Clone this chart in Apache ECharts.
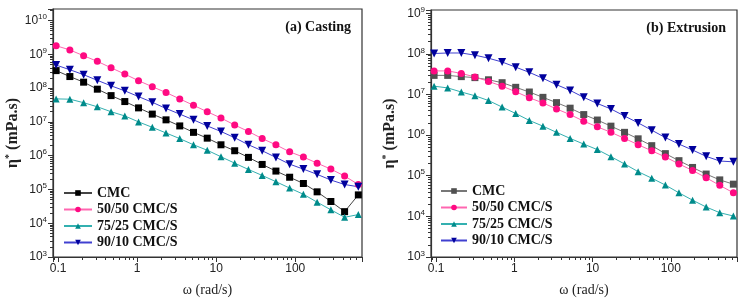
<!DOCTYPE html>
<html>
<head>
<meta charset="utf-8">
<script src="https://cdn.jsdelivr.net/npm/echarts@6/dist/echarts.min.js"></script>
<style>
  html, body { margin: 0; padding: 0; background: #fff; }
  #chart { width: 750px; height: 304px; }
</style>
</head>
<body>
<div id="chart"></div>
<script>
// angular frequency (rad/s)
var omega = [0.0942, 0.1406, 0.2098, 0.3131, 0.4672, 0.6972, 1.04, 1.553, 2.317, 3.457, 5.159, 7.699,
    11.49, 17.14, 25.58, 38.18, 56.97, 85.02, 126.9, 189.3, 282.5, 421.6, 629.2];

var seriesNames = ['CMC', '50/50 CMC/S', '75/25 CMC/S', '90/10 CMC/S'];

// (a) Casting, complex viscosity (mPa.s)
var castCMC = [3.3e8, 2.2e8, 1.5e8, 9.3e7, 6.0e7, 4.0e7, 2.6e7, 1.7e7, 1.15e7, 7.6e6, 4.9e6, 3.3e6,
    2.1e6, 1.4e6, 8.9e5, 5.5e5, 3.5e5, 2.3e5, 1.5e5, 8.5e4, 4.4e4, 2.2e4, 6.9e4];
var cast5050 = [1.8e9, 1.35e9, 9.1e8, 6.2e8, 4.0e8, 2.6e8, 1.66e8, 1.1e8, 7.4e7, 4.8e7, 3.1e7, 2.0e7,
    1.3e7, 8.1e6, 5.2e6, 3.2e6, 2.1e6, 1.3e6, 9.1e5, 6.0e5, 4.0e5, 2.5e5, 1.4e5];
var cast7525 = [4.8e7, 4.7e7, 3.7e7, 2.8e7, 2.0e7, 1.5e7, 1.0e7, 6.9e6, 4.7e6, 3.2e6, 2.1e6, 1.45e6,
    9.3e5, 6.0e5, 3.9e5, 2.6e5, 1.7e5, 1.1e5, 7.2e4, 4.2e4, 2.5e4, 1.5e4, 1.8e4];
var cast9010 = [4.8e8, 3.5e8, 2.5e8, 1.7e8, 1.17e8, 8.3e7, 5.6e7, 3.8e7, 2.5e7, 1.7e7, 1.15e7, 7.6e6,
    5.2e6, 3.4e6, 2.1e6, 1.4e6, 8.9e5, 5.6e5, 4.0e5, 2.8e5, 1.9e5, 1.4e5, 1.2e5];

// (b) Extrusion
var extCMC = [2.95e7, 2.95e7, 2.75e7, 2.6e7, 2.3e7, 1.95e7, 1.5e7, 1.15e7, 8.5e6, 6.3e6, 4.6e6, 3.2e6,
    2.35e6, 1.66e6, 1.17e6, 8.1e5, 5.5e5, 3.5e5, 2.35e5, 1.6e5, 1.1e5, 7.9e4, 6.2e4];
var ext5050 = [3.8e7, 3.8e7, 3.3e7, 2.7e7, 2.1e7, 1.6e7, 1.17e7, 8.3e6, 6.2e6, 4.4e6, 3.2e6, 2.2e6,
    1.6e6, 1.17e6, 8.3e5, 5.8e5, 4.1e5, 2.9e5, 1.95e5, 1.35e5, 8.9e4, 5.8e4, 3.8e4];
var ext7525 = [1.6e7, 1.45e7, 1.15e7, 9.3e6, 7.1e6, 4.9e6, 3.4e6, 2.3e6, 1.66e6, 1.17e6, 8.3e5, 6.0e5,
    4.4e5, 2.95e5, 1.95e5, 1.26e5, 8.7e4, 5.9e4, 3.8e4, 2.5e4, 1.7e4, 1.23e4, 1.02e4];
var ext9010 = [1.02e8, 1.05e8, 1.05e8, 9.3e7, 7.8e7, 6.3e7, 4.7e7, 3.5e7, 2.5e7, 1.74e7, 1.26e7, 8.5e6,
    6.0e6, 4.4e6, 2.95e6, 2.0e6, 1.32e6, 8.7e5, 6.0e5, 4.3e5, 3.0e5, 2.3e5, 2.2e5];

var castColors = ['#000000', '#ff0a82', '#008b8b', '#00009c'];
var extColors = ['#505050', '#ff0a82', '#008b8b', '#00009c'];
var lineColorsCast = ['#444444', '#ff66b0', '#33b0b0', '#4040d0'];
var lineColorsExt = ['#777777', '#ff66b0', '#33b0b0', '#4040d0'];
var symbols = ['rect', 'circle', 'triangle', 'path://M0,0 L10,0 L5,9 Z'];

function pairs(ys) {
    return omega.map(function (w, i) { return [w, ys[i]]; });
}

function expLabel(v) {
    var e = Math.log10(v);
    var r = Math.round(e);
    if (Math.abs(e - r) > 1e-6) return '';
    return '10{sup|' + r + '}';
}
function xLabel(v) {
    var e = Math.log10(v);
    var r = Math.round(e);
    if (Math.abs(e - r) > 1e-6) return '';
    return r < 0 ? '0.1' : String(Math.pow(10, r));
}

var serif = '"Liberation Serif", "DejaVu Serif", serif';
var sans = '"Liberation Sans", Arial, sans-serif';

function xAxisFor(g) {
    return {
        type: 'log', gridIndex: g, min: 0.086, max: 700, logBase: 10,
        name: 'ω (rad/s)', nameLocation: 'middle', nameGap: 26,
        nameTextStyle: { fontFamily: serif, fontSize: 14, color: '#222' },
        axisLine: { lineStyle: { color: '#333', width: 1.2 } },
        axisTick: { length: 5, lineStyle: { color: '#333' } },
        minorTick: { show: true, splitNumber: 9, length: 3, lineStyle: { color: '#333' } },
        splitLine: { show: false },
        axisLabel: { formatter: xLabel, fontFamily: sans, fontSize: 12, color: '#222', margin: 6 }
    };
}
function yAxisFor(g, max, gap) {
    return {
        type: 'log', gridIndex: g, min: 1e3, max: max, logBase: 10,
        name: 'η{s|*} (mPa.s)', nameLocation: 'middle', nameGap: gap, nameRotate: 90,
        nameTextStyle: {
            fontFamily: serif, fontSize: 16, fontWeight: 'bold', color: '#222',
            rich: { s: { fontFamily: serif, fontSize: 10, fontWeight: 'bold', verticalAlign: 'top', padding: [0, 0, 7, 0] } }
        },
        axisLine: { lineStyle: { color: '#333', width: 1.2 } },
        axisTick: { length: 5, lineStyle: { color: '#333' } },
        minorTick: { show: true, splitNumber: 9, length: 3, lineStyle: { color: '#333' } },
        splitLine: { show: false },
        axisLabel: {
            formatter: expLabel, fontFamily: sans, fontSize: 12, color: '#222', margin: 6,
            rich: { sup: { fontFamily: sans, fontSize: 8, verticalAlign: 'top', padding: [0, 0, 7, 0], color: '#222' } }
        }
    };
}

function makeSeries(g, lists, colors, lineColors) {
    return lists.map(function (ys, i) {
        return {
            name: seriesNames[i], type: 'line', xAxisIndex: g, yAxisIndex: g,
            data: pairs(ys), symbol: symbols[i], symbolSize: i === 3 ? 8 : 7,
            showAllSymbol: true,
            itemStyle: { color: colors[i] },
            lineStyle: { color: lineColors[i], width: 1 },
            emphasis: { disabled: true }
        };
    });
}

function legendItems(colors, lineColors) {
    return seriesNames.map(function (n, i) {
        return { name: n, itemStyle: { color: colors[i] }, lineStyle: { color: lineColors[i] } };
    });
}

var legendText = { fontFamily: serif, fontSize: 14, fontWeight: 'bold', color: '#111' };

var mychart = echarts.init(document.getElementById('chart'));
var option = {
    animation: false,
    backgroundColor: '#fff',
    title: [
        { text: '(a) Casting', right: 394, top: 15, textStyle: { fontFamily: serif, fontSize: 14, fontWeight: 'bold', color: '#111' } },
        { text: '(b) Extrusion', right: 19, top: 16, textStyle: { fontFamily: serif, fontSize: 14, fontWeight: 'bold', color: '#111' } }
    ],
    grid: [
        { left: 53, top: 9, width: 309, height: 248, show: true, borderColor: '#333', borderWidth: 1.2, backgroundColor: 'transparent' },
        { left: 431, top: 10, width: 306, height: 247, show: true, borderColor: '#333', borderWidth: 1.2, backgroundColor: 'transparent' }
    ],
    legend: [
        {
            data: legendItems(castColors, lineColorsCast),
            orient: 'vertical', left: 58, top: 181, itemWidth: 28, itemHeight: 7, itemGap: 2.5,
            textStyle: legendText
        },
        {
            data: legendItems(extColors, lineColorsExt),
            orient: 'vertical', left: 435, top: 179, itemWidth: 26, itemHeight: 7, itemGap: 2.5,
            textStyle: legendText
        }
    ],
    xAxis: [xAxisFor(0), xAxisFor(1)],
    yAxis: [yAxisFor(0, 2.2e10, 30), yAxisFor(1, 1.2e9, 33)],
    series: makeSeries(0, [castCMC, cast5050, cast7525, cast9010], castColors, lineColorsCast)
        .concat(makeSeries(1, [extCMC, ext5050, ext7525, ext9010], extColors, lineColorsExt))
};
mychart.setOption(option);
</script>
</body>
</html>
